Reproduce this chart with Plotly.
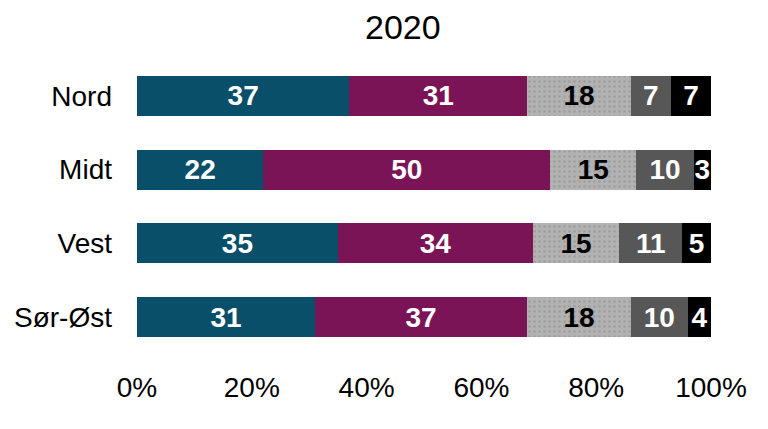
import plotly.graph_objects as go

title_text = "2020"
regions = ["Nord", "Midt", "Vest", "Sør-Øst"]
series_names = ["Kategori 1", "Kategori 2", "Kategori 3", "Kategori 4", "Kategori 5"]
values_s1 = [37, 22, 35, 31]
values_s2 = [31, 50, 34, 37]
values_s3 = [18, 15, 15, 18]
values_s4 = [7, 10, 11, 10]
values_s5 = [7, 3, 5, 4]
x_tick_vals = [0, 20, 40, 60, 80, 100]
x_tick_labels = ["0%", "20%", "40%", "60%", "80%", "100%"]

colors = ["#0A4F69", "#7A1457", "#B2B2B2", "#575757", "#000000"]
text_colors = ["white", "white", "black", "white", "white"]
all_values = [values_s1, values_s2, values_s3, values_s4, values_s5]

FONT = "Liberation Sans, Arial, sans-serif"

fig = go.Figure()
for i, (name, vals) in enumerate(zip(series_names, all_values)):
    marker = dict(color=colors[i], line=dict(width=0))
    if i == 2:
        marker["pattern"] = dict(shape=".", fgcolor="#9E9E9E", bgcolor=colors[i],
                                 size=5, solidity=0.2, fillmode="replace")
    fig.add_trace(go.Bar(
        y=regions, x=vals, name=name, orientation="h",
        marker=marker,
        text=[str(v) for v in vals],
        textposition="inside", insidetextanchor="middle", textangle=0,
        textfont=dict(family=FONT, size=28, color=text_colors[i], weight="bold"),
        hoverinfo="x+y+name",
    ))

plot_h = 429 - 59 - 75
fig.update_layout(
    barmode="stack",
    bargap=0.46,
    width=768, height=429,
    margin=dict(l=137, r=57, t=59, b=75, autoexpand=False),
    paper_bgcolor="white", plot_bgcolor="white",
    showlegend=False,
    uniformtext=dict(minsize=28, mode="show"),
    font=dict(family=FONT, size=28, color="black"),
    annotations=[dict(text=title_text, x=(403 - 137) / 574, y=1 + (59 - 27) / plot_h,
                      xref="paper", yref="paper",
                      showarrow=False, font=dict(family=FONT, size=34, color="black"),
                      xanchor="center", yanchor="middle")],
)

fig.update_xaxes(range=[0, 100], tickvals=x_tick_vals, ticktext=x_tick_labels,
                 showgrid=False, zeroline=False, showline=False, ticks="",
                 automargin=False,
                 ticklabelstandoff=14, tickfont=dict(family=FONT, size=28, color="black"),
                 fixedrange=True)
fig.update_yaxes(categoryorder="array", categoryarray=regions, autorange="reversed",
                 showgrid=False, zeroline=False, showline=False, ticks="",
                 automargin=False,
                 ticklabelstandoff=24, tickfont=dict(family=FONT, size=28, color="black"),
                 fixedrange=True)

fig.write_html("out.html", config={"displayModeBar": False},
               post_script="document.body.style.margin='0';document.body.style.overflow='hidden';")
